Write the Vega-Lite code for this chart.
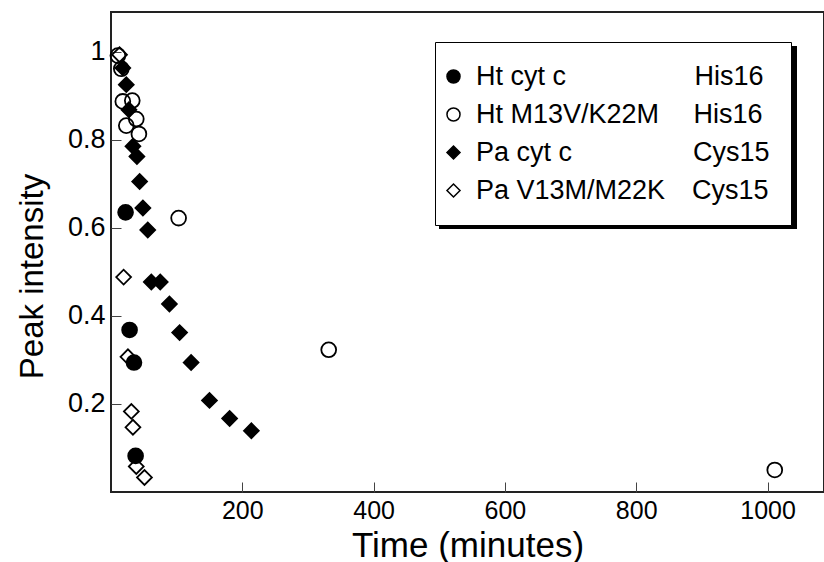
{
  "$schema": "https://vega.github.io/schema/vega-lite/v6.json",
  "width": 713,
  "height": 480,
  "autosize": {"type": "none"},
  "padding": {"left": 111, "top": 12, "right": 0, "bottom": 70},
  "background": "white",
  "config": {
    "view": {"stroke": "#222", "strokeWidth": 2},
    "font": "Liberation Sans",
    "axis": {"grid": false, "domain": false, "tickColor": "#444", "tickWidth": 1, "labelColor": "black", "titleColor": "black", "titleFontWeight": "normal", "labelFont": "Liberation Sans", "titleFont": "Liberation Sans"}
  },
  "data": {
    "values": [
      {"series": "Ht M13V/K22M", "t": 10.5, "v": 0.991},
      {"series": "Pa V13M/M22K", "t": 13, "v": 0.993},
      {"series": "Ht M13V/K22M", "t": 15.7, "v": 0.961},
      {"series": "Ht M13V/K22M", "t": 18, "v": 0.887},
      {"series": "Ht M13V/K22M", "t": 32.4, "v": 0.889},
      {"series": "Ht M13V/K22M", "t": 38.5, "v": 0.847},
      {"series": "Ht M13V/K22M", "t": 23.3, "v": 0.832},
      {"series": "Ht M13V/K22M", "t": 42.5, "v": 0.813},
      {"series": "Ht M13V/K22M", "t": 103, "v": 0.622},
      {"series": "Ht M13V/K22M", "t": 331.6, "v": 0.323},
      {"series": "Ht M13V/K22M", "t": 1011, "v": 0.05},
      {"series": "Pa cyt c", "t": 18, "v": 0.963},
      {"series": "Pa cyt c", "t": 23.3, "v": 0.925},
      {"series": "Pa cyt c", "t": 27.3, "v": 0.868},
      {"series": "Pa cyt c", "t": 33.4, "v": 0.785},
      {"series": "Pa cyt c", "t": 39.5, "v": 0.762},
      {"series": "Pa cyt c", "t": 43.6, "v": 0.705},
      {"series": "Pa cyt c", "t": 48.6, "v": 0.645},
      {"series": "Pa cyt c", "t": 56, "v": 0.595},
      {"series": "Pa cyt c", "t": 61.4, "v": 0.477},
      {"series": "Pa cyt c", "t": 75, "v": 0.477},
      {"series": "Pa cyt c", "t": 89, "v": 0.427},
      {"series": "Pa cyt c", "t": 104.5, "v": 0.362},
      {"series": "Pa cyt c", "t": 122, "v": 0.294},
      {"series": "Pa cyt c", "t": 150, "v": 0.208},
      {"series": "Pa cyt c", "t": 180.7, "v": 0.167},
      {"series": "Pa cyt c", "t": 213.8, "v": 0.139},
      {"series": "Ht cyt c", "t": 22.2, "v": 0.635},
      {"series": "Ht cyt c", "t": 28.3, "v": 0.368},
      {"series": "Ht cyt c", "t": 35, "v": 0.294},
      {"series": "Ht cyt c", "t": 37.5, "v": 0.082},
      {"series": "Pa V13M/M22K", "t": 19.2, "v": 0.488},
      {"series": "Pa V13M/M22K", "t": 25.8, "v": 0.307},
      {"series": "Pa V13M/M22K", "t": 31, "v": 0.183},
      {"series": "Pa V13M/M22K", "t": 33.4, "v": 0.147},
      {"series": "Pa V13M/M22K", "t": 38.5, "v": 0.058},
      {"series": "Pa V13M/M22K", "t": 51, "v": 0.033}
    ]
  },
  "layer": [
    {
      "mark": {"type": "point", "filled": true, "opacity": 0, "size": 10},
      "encoding": {
        "stroke": {"field": "v", "type": "quantitative",
          "scale": {"range": ["black", "black"]},
          "legend": {"type": "gradient", "direction": "vertical", "title": null, "orient": "none", "legendX": 328, "legendY": 34, "zindex": 1, "padding": 0, "labels": false, "labelExpr": "''", "labelOpacity": 0, "gradientLength": 183, "gradientThickness": 358, "gradientStrokeColor": "black", "gradientStrokeWidth": 0}}
      }
    },
    {
      "mark": {"type": "point", "filled": true, "stroke": "black", "strokeWidth": 1.8, "size": 220, "opacity": 1},
      "encoding": {
        "x": {"field": "t", "type": "quantitative", "scale": {"domain": [0, 1086], "nice": false, "zero": false},
          "axis": {"values": [200, 400, 600, 800, 1000], "format": "d", "title": "Time (minutes)", "titleFontSize": 35, "labelFontSize": 25, "tickSize": -10, "labelPadding": 16, "titlePadding": 5}},
        "y": {"field": "v", "type": "quantitative", "scale": {"domain": [0, 1.09], "nice": false, "zero": false},
          "axis": {"values": [0.2, 0.4, 0.6, 0.8, 1], "format": ".1~f", "title": "Peak intensity", "titleFontSize": 33, "labelFontSize": 27, "tickSize": -10, "labelPadding": 16, "titleX": -62, "titleY": 264}},
        "shape": {"field": "series", "type": "nominal",
          "scale": {"domain": ["Ht cyt c", "Ht M13V/K22M", "Pa cyt c", "Pa V13M/M22K"], "range": ["circle", "circle", "diamond", "diamond"]},
          "legend": {"title": null, "orient": "none", "legendX": 324, "legendY": 30, "zindex": 2, "strokeColor": "black", "fillColor": "white", "padding": 21, "labelFontSize": 27, "labelFont": "Liberation Sans", "labelColor": "black", "labelLimit": 400, "labelOffset": 9, "rowPadding": 10, "symbolOffset": -16, "symbolSize": 170,
            "labelExpr": "datum.label == 'Ht cyt c' ? 'Ht cyt c\u2003\u2003\u2003\u2003\u00a0\u00a0\u2009His16' : datum.label == 'Ht M13V/K22M' ? 'Ht M13V/K22M\u2003\u00a0His16' : datum.label == 'Pa cyt c' ? 'Pa cyt c\u2003\u2003\u2003\u2003\u00a0\u2009Cys15' : 'Pa V13M/M22K\u2003Cys15'",
            "encode": {"symbols": {"update": {"stroke": {"value": "black"}, "strokeWidth": {"value": 1.8}}}}}},
        "fill": {"field": "series", "type": "nominal",
          "scale": {"domain": ["Ht cyt c", "Ht M13V/K22M", "Pa cyt c", "Pa V13M/M22K"], "range": ["black", "transparent", "black", "transparent"]}}
      }
    }
  ]
}
